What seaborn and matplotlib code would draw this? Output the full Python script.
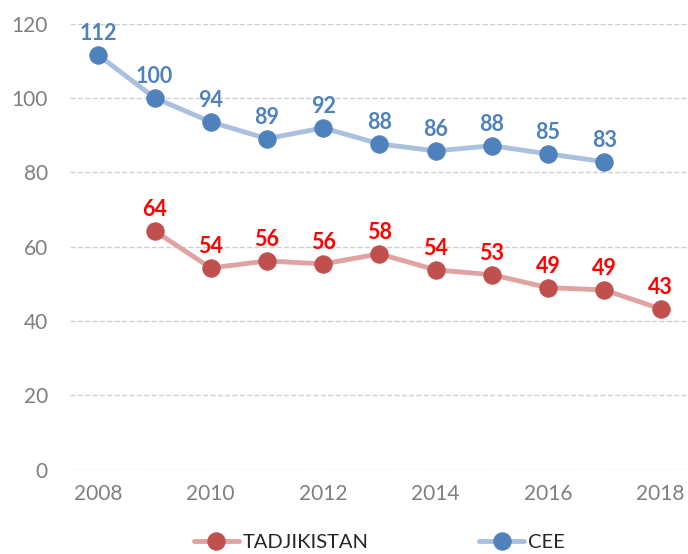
import pandas as pd
import numpy as np
import matplotlib
matplotlib.use('Agg')
import matplotlib.pyplot as plt
import seaborn as sns

years_cee = [2008, 2009, 2010, 2011, 2012, 2013, 2014, 2015, 2016, 2017]
cee = [111.6, 100.1, 93.6, 89.1, 92.0, 87.7, 85.8, 87.2, 85.0, 82.9]
cee_labels = ['112', '100', '94', '89', '92', '88', '86', '88', '85', '83']

years_tj = [2009, 2010, 2011, 2012, 2013, 2014, 2015, 2016, 2017, 2018]
tj = [64.3, 54.3, 56.2, 55.4, 58.1, 53.8, 52.5, 49.0, 48.4, 43.3]
tj_labels = ['64', '54', '56', '56', '58', '54', '53', '49', '49', '43']

df = pd.concat([
    pd.DataFrame({'year': years_tj, 'value': tj, 'series': 'TADJIKISTAN'}),
    pd.DataFrame({'year': years_cee, 'value': cee, 'series': 'CEE'}),
])

sns.set_style('white')
plt.rcParams['font.family'] = ['Lato', 'DejaVu Sans']

fig = plt.figure(figsize=(6.88, 5.54), dpi=100)
ax = fig.add_axes([0.102, 0.152, 0.899, 0.805])

line_cols = {'TADJIKISTAN': '#E0A3A2', 'CEE': '#A9C0DE'}
mark_cols = {'TADJIKISTAN': '#C0504D', 'CEE': '#4F81BD'}
text_cols = {'TADJIKISTAN': '#FF0000', 'CEE': '#4F81BD'}

for name in ['TADJIKISTAN', 'CEE']:
    sub = df[df['series'] == name]
    sns.lineplot(data=sub, x='year', y='value', ax=ax, color=line_cols[name],
                 linewidth=3.5, marker='o', markersize=12.5,
                 markerfacecolor=mark_cols[name], markeredgecolor=mark_cols[name],
                 label=name, zorder=3)

for x, y, t in zip(years_cee, cee, cee_labels):
    ax.annotate(t, (x, y), xytext=(0, 8), textcoords='offset points', ha='center',
                va='bottom', fontsize=15.5, fontweight='bold', color=text_cols['CEE'])
for x, y, t in zip(years_tj, tj, tj_labels):
    ax.annotate(t, (x, y), xytext=(0, 8), textcoords='offset points', ha='center',
                va='bottom', fontsize=15.5, fontweight='bold', color=text_cols['TADJIKISTAN'])

ax.set_xlim(2007.5, 2018.5)
ax.set_ylim(0, 120)
ax.set_xticks(range(2008, 2019, 2))
ax.set_yticks(range(0, 121, 20))
ax.yaxis.grid(True, linestyle='--', color='#D0D0D0', linewidth=1)
ax.set_axisbelow(True)
for s in ax.spines.values():
    s.set_visible(False)
ax.tick_params(axis='both', length=0, labelsize=15, labelcolor='#7F7F7F')
ax.tick_params(axis='x', pad=10)
ax.tick_params(axis='y', pad=16)
ax.set_xlabel('')
ax.set_ylabel('')

ax.legend(loc='center', bbox_to_anchor=(0.5, -0.162), ncol=2, frameon=False,
          fontsize=14.5, handlelength=2.2, columnspacing=5.5, handletextpad=0.2,
          borderpad=0.1)

plt.savefig('out.png', dpi=100)
